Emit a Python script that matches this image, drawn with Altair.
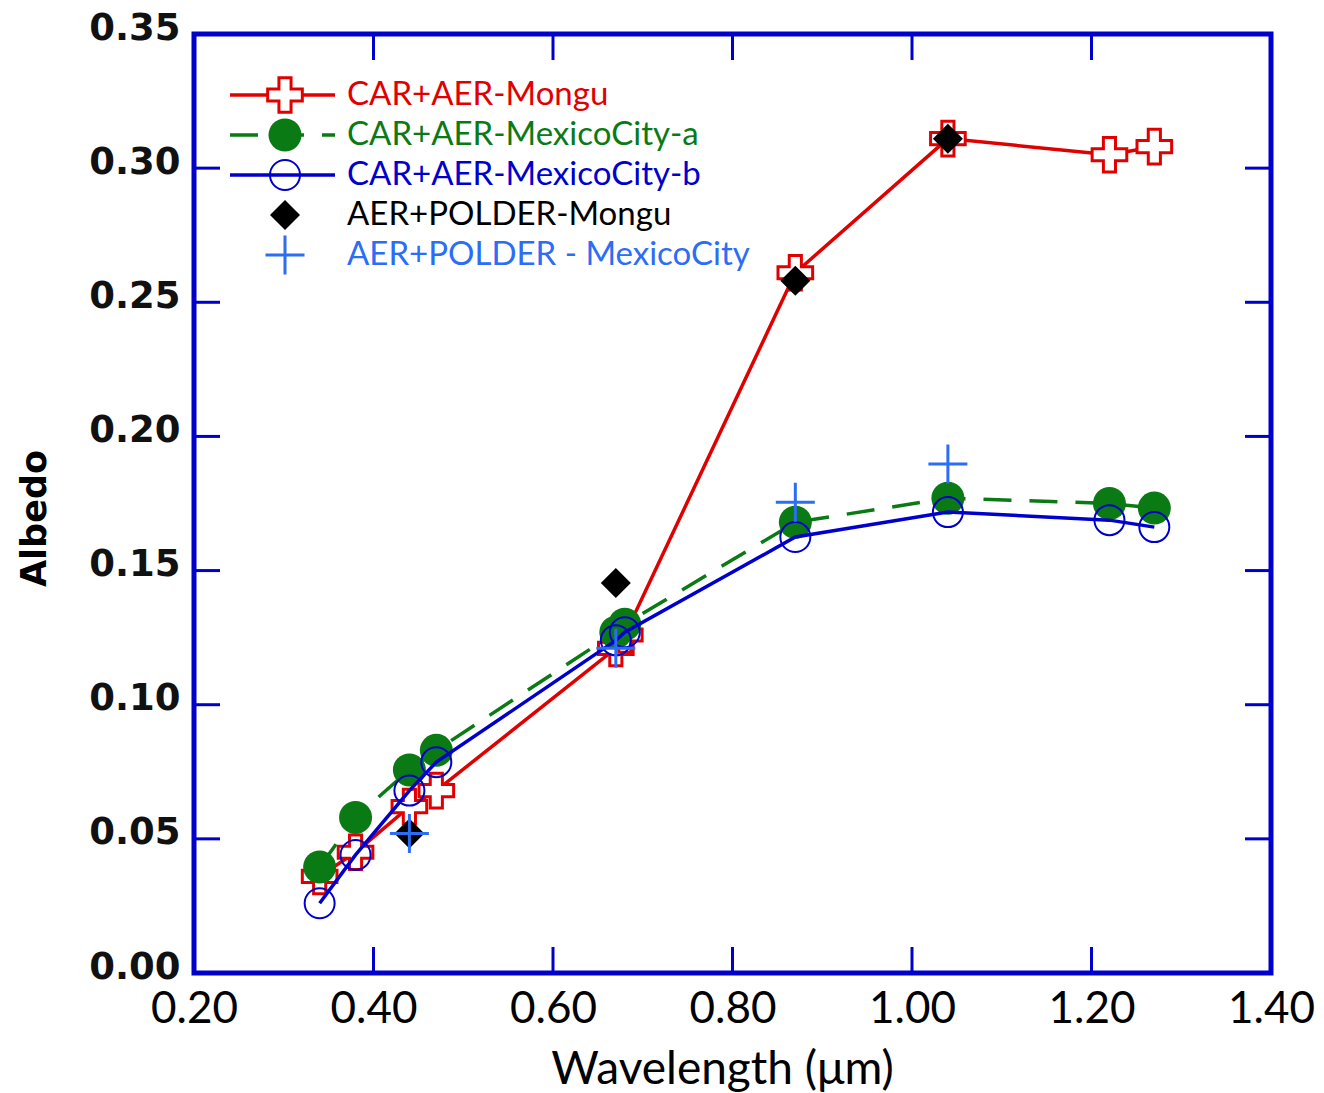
import altair as alt
import pandas as pd

# Wavelengths (µm) of the CAR + AERONET retrievals
CAR_WAVELENGTHS = [0.34, 0.38, 0.44, 0.47, 0.67, 0.68, 0.87, 1.04, 1.22, 1.27]
MONGU_CAR = [0.036, 0.045, 0.062, 0.068, 0.121, 0.126, 0.261, 0.311, 0.305, 0.308]
MEXICO_CAR_A = [0.0395, 0.058, 0.0757, 0.083, 0.127, 0.130, 0.168, 0.177, 0.175, 0.1733]
MEXICO_CAR_B = [0.026, 0.044, 0.068, 0.0786, 0.124, 0.127, 0.1625, 0.1718, 0.1688, 0.1662]

# Wavelengths (µm) of the AERONET + POLDER retrievals
POLDER_WAVELENGTHS = [0.44, 0.67, 0.87, 1.04]
MONGU_POLDER = [0.052, 0.1454, 0.258, 0.311]
MEXICO_POLDER = [0.052, 0.121, 0.1755, 0.1897]

SERIES_NAMES = [
    "CAR+AER-Mongu",
    "CAR+AER-MexicoCity-a",
    "CAR+AER-MexicoCity-b",
    "AER+POLDER-Mongu",
    "AER+POLDER - MexicoCity",
]

X_TICKS = [0.20, 0.40, 0.60, 0.80, 1.00, 1.20, 1.40]
Y_TICKS = [0.00, 0.05, 0.10, 0.15, 0.20, 0.25, 0.30, 0.35]

RED = "#E00000"
GREEN = "#0A7A14"
BLUE = "#0000CD"
LIGHT_BLUE = "#2B6DF5"
BLACK = "#000000"

PLOT_W, PLOT_H = 1077, 939
TICK_LEN = 26

OPEN_CROSS = ("M-1,-0.35L-1,0.35L-0.35,0.35L-0.35,1L0.35,1L0.35,0.35L1,0.35"
              "L1,-0.35L0.35,-0.35L0.35,-1L-0.35,-1L-0.35,-0.35Z")
THIN_PLUS = "M-1,0L1,0M0,-1L0,1"

x_scale = alt.Scale(domain=[0.2, 1.4], nice=False, zero=False)
y_scale = alt.Scale(domain=[0.0, 0.35], nice=False, zero=False)

x_axis = alt.Axis(
    values=X_TICKS, format=".2f", ticks=False, domain=False, grid=False,
    labelFont="Lato", labelFontSize=44, labelColor="black", labelPadding=14,
    labelFlush=False, labelOverlap=False,
    title="Wavelength (μm)", titleFont="Lato", titleFontSize=46,
    titleFontWeight="normal", titleColor="black", titlePadding=16,
    titleX=528,
)
y_axis = alt.Axis(
    values=Y_TICKS, format=".2f", ticks=False, domain=False, grid=False,
    labelFont="DejaVu Sans", labelFontSize=37, labelFontWeight="bold",
    labelColor="#111111", labelPadding=14,
    labelOffset=-6, labelFlush=False, labelOverlap=False,
    title="Albedo", titleFont="DejaVu Sans", titleFontSize=35,
    titleFontWeight="bold", titleColor="black", titlePadding=36,
    titleY=484,
)

X = alt.X("wavelength:Q", scale=x_scale, axis=x_axis)
Y = alt.Y("albedo:Q", scale=y_scale, axis=y_axis)


def frame(wl, vals):
    return pd.DataFrame({"wavelength": wl, "albedo": vals})


def line_layer(df, color, dash=None):
    kw = dict(color=color, strokeWidth=3.5)
    if dash:
        kw["strokeDash"] = dash
    return alt.Chart(df).mark_line(**kw).encode(x=X, y=Y)


mongu = frame(CAR_WAVELENGTHS, MONGU_CAR)
mex_a = frame(CAR_WAVELENGTHS, MEXICO_CAR_A)
mex_b = frame(CAR_WAVELENGTHS, MEXICO_CAR_B)
mongu_pol = frame(POLDER_WAVELENGTHS, MONGU_POLDER)
mex_pol = frame(POLDER_WAVELENGTHS, MEXICO_POLDER)

# marker styles shared by the data and the legend key
STYLES = [
    dict(shape=OPEN_CROSS, size=1200, filled=True, fill="white", stroke=RED,
         strokeWidth=3, opacity=1),
    dict(shape="circle", size=1089, filled=True, fill=GREEN, strokeWidth=0, opacity=1),
    dict(shape="circle", size=900, filled=False, fill=None, stroke=BLUE,
         strokeWidth=2, opacity=1),
    dict(shape="diamond", size=900, filled=True, fill=BLACK, strokeWidth=0, opacity=1),
    dict(shape=THIN_PLUS, size=1521, filled=False, stroke=LIGHT_BLUE,
         strokeWidth=3, opacity=1),
]
LINE_STYLES = [
    dict(color=RED),
    dict(color=GREEN, dash=[28, 18]),
    dict(color=BLUE),
    None,
    None,
]
TEXT_COLORS = [RED, GREEN, BLUE, BLACK, LIGHT_BLUE]


def point_layer(df, style):
    st = {k: v for k, v in style.items() if v is not None}
    return alt.Chart(df).mark_point(**st).encode(x=X, y=Y)


layers = [
    line_layer(mongu, RED),
    point_layer(mongu, STYLES[0]),
    line_layer(mex_a, GREEN, [28, 18]),
    point_layer(mex_a, STYLES[1]),
    line_layer(mex_b, BLUE),
    point_layer(mex_b, STYLES[2]),
    point_layer(mongu_pol, STYLES[3]),
    point_layer(mex_pol, STYLES[4]),
]

# inward-pointing ticks on all four sides of the frame
xt = pd.DataFrame({"wavelength": X_TICKS[1:-1]})
yt = pd.DataFrame({"albedo": Y_TICKS[1:-1]})
tick_kw = dict(color=BLUE, strokeWidth=3)
layers += [
    alt.Chart(xt).mark_rule(**tick_kw).encode(
        x=X, y=alt.value(PLOT_H), y2=alt.value(PLOT_H - TICK_LEN)),
    alt.Chart(xt).mark_rule(**tick_kw).encode(
        x=X, y=alt.value(0), y2=alt.value(TICK_LEN)),
    alt.Chart(yt).mark_rule(**tick_kw).encode(
        y=Y, x=alt.value(0), x2=alt.value(TICK_LEN)),
    alt.Chart(yt).mark_rule(**tick_kw).encode(
        y=Y, x=alt.value(PLOT_W), x2=alt.value(PLOT_W - TICK_LEN)),
]

# legend key in the upper-left corner
LEG_TOP, LEG_STEP = 61, 40
LEG_X0, LEG_X1, LEG_MARK, LEG_TEXT = 36, 141, 91, 153
for i, name in enumerate(SERIES_NAMES):
    row = pd.DataFrame({"name": [name]})
    yy = LEG_TOP + i * LEG_STEP
    ls = LINE_STYLES[i]
    if ls is not None:
        kw = dict(color=ls["color"], strokeWidth=3.5)
        if "dash" in ls:
            kw["strokeDash"] = ls["dash"]
        layers.append(alt.Chart(row).mark_rule(**kw).encode(
            x=alt.value(LEG_X0), x2=alt.value(LEG_X1), y=alt.value(yy)))
    st = {k: v for k, v in STYLES[i].items() if v is not None}
    layers.append(alt.Chart(row).mark_point(**st).encode(
        x=alt.value(LEG_MARK), y=alt.value(yy)))
    layers.append(alt.Chart(row).mark_text(
        align="left", baseline="middle", font="Lato", fontSize=33,
        color=TEXT_COLORS[i]).encode(
        x=alt.value(LEG_TEXT), y=alt.value(yy), text="name:N"))

chart = alt.layer(*layers).properties(
    width=PLOT_W,
    height=PLOT_H,
    autosize=alt.AutoSizeParams(type="none"),
    padding={"left": 194, "top": 34, "right": 53, "bottom": 120},
    background="white",
).configure_view(stroke=BLUE, strokeWidth=5)

chart.save("out.html", embed_options={"renderer": "svg", "actions": False})
